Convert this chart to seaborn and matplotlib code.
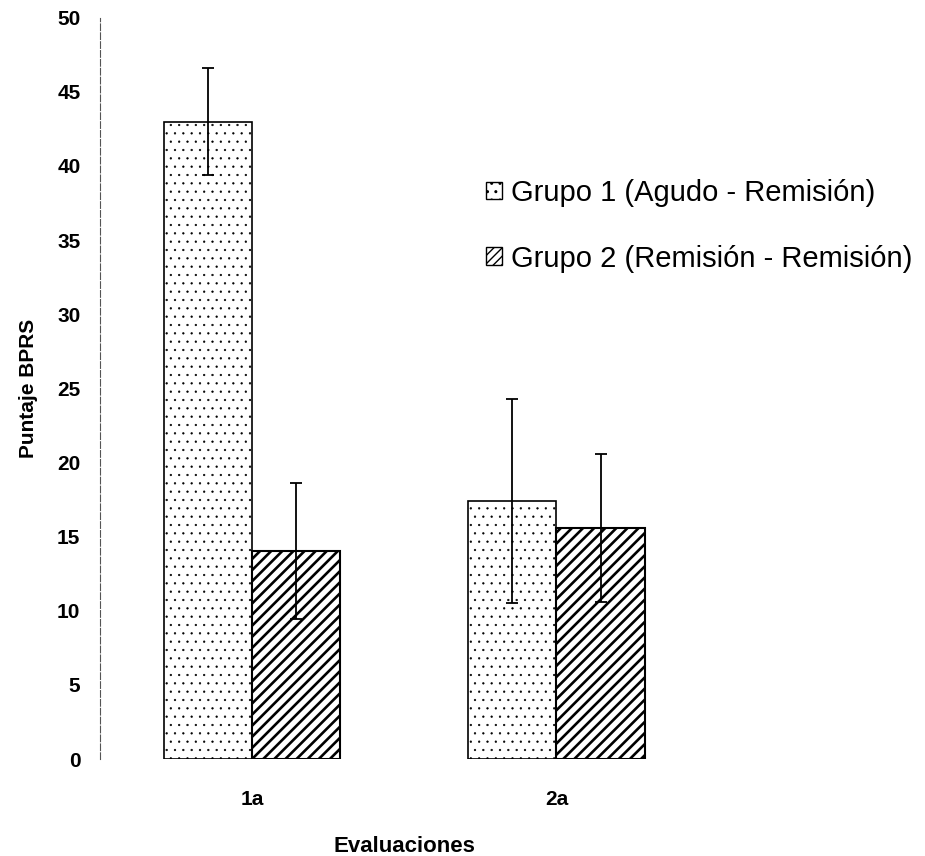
import pandas as pd
import matplotlib
matplotlib.use("Agg")
import matplotlib.pyplot as plt
import matplotlib.patches as mpatches
import seaborn as sns

# Data
evaluaciones = ["1a", "2a"]
grupos = ["Grupo 1 (Agudo - Remisión)", "Grupo 2 (Remisión - Remisión)"]
grupo1_media = [43.0, 17.4]
grupo2_media = [14.05, 15.6]
grupo1_error = [3.6, 6.85]
grupo2_error = [4.6, 5.0]

df = pd.DataFrame({
    "Evaluaciones": evaluaciones * 2,
    "Grupo": [grupos[0]] * 2 + [grupos[1]] * 2,
    "Puntaje": grupo1_media + grupo2_media,
    "Error": grupo1_error + grupo2_error,
})

sns.set_style("white")
plt.rcParams["font.family"] = ["Liberation Sans", "DejaVu Sans"]
plt.rcParams["text.color"] = "black"
plt.rcParams["xtick.color"] = "black"
plt.rcParams["ytick.color"] = "black"
plt.rcParams["axes.labelcolor"] = "black"

fig = plt.figure(figsize=(9.25, 8.56), dpi=100)
ax = fig.add_axes([0.108, 0.1133, 0.658, 0.866])

sns.barplot(data=df, x="Evaluaciones", y="Puntaje", hue="Grupo",
            palette=["white", "white"], edgecolor="black", linewidth=1.5,
            width=0.58, errorbar=None, ax=ax, legend=False)

hatches = ["..", "///"]
hatch_lw = [0.4, 1.9]
errs = grupo1_error + grupo2_error
for i, bar in enumerate(ax.patches[:4]):
    g = i // 2
    bar.set_hatch(hatches[g])
    if hasattr(bar, "set_hatch_linewidth"):
        bar.set_hatch_linewidth(hatch_lw[g])
    if g == 0:
        bar.set_linewidth(1.2)
    cx = bar.get_x() + bar.get_width() / 2
    ax.errorbar(cx, bar.get_height(), yerr=errs[i], color="black",
                elinewidth=1.3, capsize=4.5, capthick=1.3, fmt="none")

ax.set_xlim(-0.5, 1.5)
ax.set_ylim(0, 50)
ax.set_yticks(range(0, 51, 5))
for s in ["top", "right", "bottom"]:
    ax.spines[s].set_visible(False)
ax.spines["left"].set_color("#555555")
ax.spines["left"].set_linewidth(0.8)
ax.spines["left"].set_linestyle((0, (6, 2)))
ax.tick_params(axis="y", length=3, width=0.8, color="#555555", labelsize=15, pad=11)
ax.tick_params(axis="x", length=0, labelsize=15, pad=22)
for lab in ax.get_xticklabels() + ax.get_yticklabels():
    lab.set_fontweight("bold")

ax.set_ylabel("Puntaje BPRS", fontsize=15, fontweight="bold", labelpad=14)
ax.set_xlabel("Evaluaciones", fontsize=16, fontweight="bold")
ax.xaxis.set_label_coords(0.5, -0.104)

handles = [mpatches.Patch(facecolor="white", edgecolor="black", hatch="..", linewidth=1),
           mpatches.Patch(facecolor="white", edgecolor="black", hatch="////", linewidth=1)]
fig.legend(handles, grupos, loc="upper left", bbox_to_anchor=(0.497, 0.822),
           frameon=False, fontsize=21, handlelength=0.55, handleheight=0.55,
           handletextpad=0.3, labelspacing=1.3)

fig.savefig("out.png", dpi=100)
